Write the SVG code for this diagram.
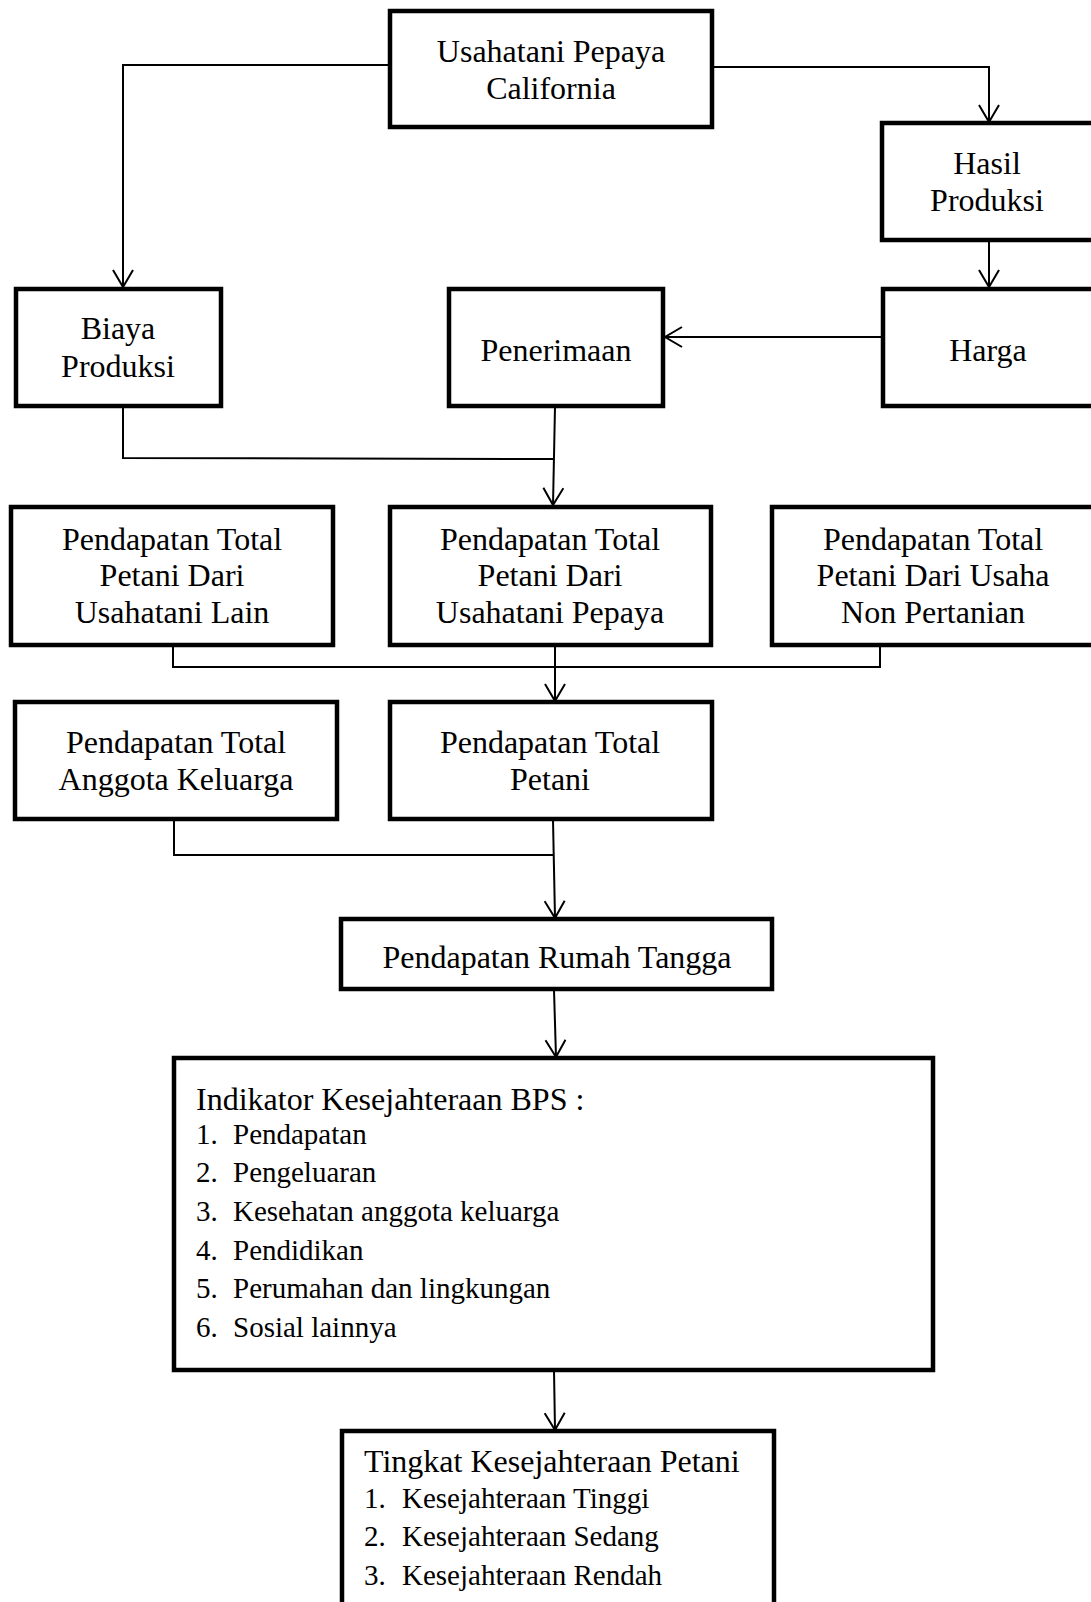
<svg xmlns="http://www.w3.org/2000/svg" width="1091" height="1602" viewBox="0 0 1091 1602">
<style>
.box{fill:#fff;stroke:#000;stroke-width:4.5;stroke-linejoin:miter}
.t{font-family:"Liberation Serif","Times New Roman",serif;font-size:32px;fill:#000;text-anchor:middle}
.l{font-family:"Liberation Serif","Times New Roman",serif;font-size:32px;fill:#000}
.s{font-family:"Liberation Serif","Times New Roman",serif;font-size:29px;fill:#000}
.c{fill:none;stroke:#000;stroke-width:2}
</style>
<defs>
<marker id="arr" viewBox="0 0 20 22" refX="18" refY="11" markerWidth="20" markerHeight="22" markerUnits="userSpaceOnUse" orient="auto">
<path d="M1,1 L18,11 L1,21" fill="none" stroke="#000" stroke-width="2"/>
</marker>
</defs>
<rect width="1091" height="1602" fill="#fff"/>
<g id="connectors">
<polyline class="c" points="390,65 123,65 123,287" marker-end="url(#arr)"/>
<polyline class="c" points="713,67 989,67 989,122" marker-end="url(#arr)"/>
<line class="c" x1="989" y1="241" x2="989" y2="287" marker-end="url(#arr)"/>
<line class="c" x1="882" y1="337" x2="665" y2="337" marker-end="url(#arr)"/>
<polyline class="c" points="123,407 123,458 554,459"/>
<line class="c" x1="555" y1="407" x2="553" y2="505" marker-end="url(#arr)"/>
<polyline class="c" points="173,645 173,667 880,667 880,645"/>
<line class="c" x1="555" y1="645" x2="555" y2="701" marker-end="url(#arr)"/>
<polyline class="c" points="174,820 174,855 553,855"/>
<line class="c" x1="553" y1="820" x2="555" y2="918" marker-end="url(#arr)"/>
<line class="c" x1="554" y1="990" x2="556" y2="1057" marker-end="url(#arr)"/>
<line class="c" x1="554" y1="1370" x2="555" y2="1430" marker-end="url(#arr)"/>
</g>
<g id="usahatani"><rect class="box" x="390" y="11" width="322" height="116"/>
<text class="t" x="551" y="62">Usahatani Pepaya</text><text class="t" x="551" y="99">California</text></g>
<g id="hasil"><rect class="box" x="882" y="123" width="215" height="117"/>
<text class="t" x="987" y="174">Hasil</text><text class="t" x="987" y="211">Produksi</text></g>
<g id="biaya"><rect class="box" x="16" y="289" width="205" height="117"/>
<text class="t" x="118" y="339">Biaya</text><text class="t" x="118" y="377">Produksi</text></g>
<g id="penerimaan"><rect class="box" x="449" y="289" width="214" height="117"/>
<text class="t" x="556" y="361">Penerimaan</text></g>
<g id="harga"><rect class="box" x="883" y="289" width="215" height="117"/>
<text class="t" x="988" y="361">Harga</text></g>
<g id="pt-lain"><rect class="box" x="11" y="507" width="322" height="138"/>
<text class="t" x="172" y="550">Pendapatan Total</text><text class="t" x="172" y="586">Petani Dari</text><text class="t" x="172" y="623">Usahatani Lain</text></g>
<g id="pt-pepaya"><rect class="box" x="390" y="507" width="321" height="138"/>
<text class="t" x="550" y="550">Pendapatan Total</text><text class="t" x="550" y="586">Petani Dari</text><text class="t" x="550" y="623">Usahatani Pepaya</text></g>
<g id="pt-non"><rect class="box" x="772" y="507" width="330" height="138"/>
<text class="t" x="933" y="550">Pendapatan Total</text><text class="t" x="933" y="586">Petani Dari Usaha</text><text class="t" x="933" y="623">Non Pertanian</text></g>
<g id="pt-anggota"><rect class="box" x="15" y="702" width="322" height="117"/>
<text class="t" x="176" y="753">Pendapatan Total</text><text class="t" x="176" y="790">Anggota Keluarga</text></g>
<g id="pt-petani"><rect class="box" x="390" y="702" width="322" height="117"/>
<text class="t" x="550" y="753">Pendapatan Total</text><text class="t" x="550" y="790">Petani</text></g>
<g id="rumah-tangga"><rect class="box" x="341" y="919" width="431" height="70"/>
<text class="t" x="557" y="968">Pendapatan Rumah Tangga</text></g>
<g id="indikator"><rect class="box" x="174" y="1058" width="759" height="312"/>
<text class="l" x="196" y="1110">Indikator Kesejahteraan BPS :</text>
<text class="s" x="196" y="1144">1.</text><text class="s" x="233" y="1144">Pendapatan</text>
<text class="s" x="196" y="1182">2.</text><text class="s" x="233" y="1182">Pengeluaran</text>
<text class="s" x="196" y="1221">3.</text><text class="s" x="233" y="1221">Kesehatan anggota keluarga</text>
<text class="s" x="196" y="1260">4.</text><text class="s" x="233" y="1260">Pendidikan</text>
<text class="s" x="196" y="1298">5.</text><text class="s" x="233" y="1298">Perumahan dan lingkungan</text>
<text class="s" x="196" y="1337">6.</text><text class="s" x="233" y="1337">Sosial lainnya</text></g>
<g id="tingkat"><rect class="box" x="342" y="1431" width="432" height="200"/>
<text class="l" x="364" y="1472">Tingkat Kesejahteraan Petani</text>
<text class="s" x="364" y="1508">1.</text><text class="s" x="402" y="1508">Kesejahteraan Tinggi</text>
<text class="s" x="364" y="1546">2.</text><text class="s" x="402" y="1546">Kesejahteraan Sedang</text>
<text class="s" x="364" y="1585">3.</text><text class="s" x="402" y="1585">Kesejahteraan Rendah</text></g>
</svg>
